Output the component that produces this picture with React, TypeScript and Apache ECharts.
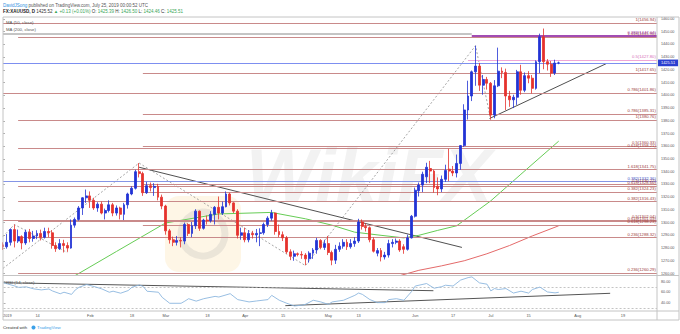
import React, { useEffect, useRef } from "react";
import * as echarts from "echarts";

// ---------------- data ----------------
const firstDay = "2018-12-31";
const lastDay = "2019-08-30";
const holidays = ["2019-01-01"];

// daily candles: [open, close, low, high]
const dec2018 = [[1282.5, 1281.0, 1278.5, 1284.5]];
const jan2019 = [
  [1281.0, 1284.5, 1279.5, 1291.0], [1284.5, 1294.5, 1282.0, 1295.5], [1294.5, 1285.5, 1280.5, 1298.5],
  [1285.5, 1289.0, 1284.0, 1294.5], [1289.0, 1284.0, 1279.0, 1290.0], [1284.0, 1292.5, 1282.5, 1294.5],
  [1292.5, 1287.5, 1284.5, 1295.0], [1287.5, 1289.5, 1285.0, 1293.5], [1289.5, 1291.5, 1287.0, 1294.0],
  [1291.5, 1288.5, 1286.0, 1294.5], [1288.5, 1293.0, 1287.5, 1296.0], [1293.0, 1292.0, 1288.5, 1296.0],
  [1292.0, 1282.0, 1279.5, 1294.0], [1282.0, 1279.5, 1277.0, 1284.5], [1279.5, 1283.5, 1278.5, 1287.0],
  [1283.5, 1282.0, 1276.5, 1286.5], [1282.0, 1280.0, 1277.0, 1284.5], [1280.0, 1298.0, 1279.5, 1302.5],
  [1298.0, 1302.5, 1296.0, 1304.0], [1302.5, 1311.5, 1301.5, 1313.0], [1311.5, 1319.5, 1306.0, 1320.0],
  [1319.5, 1321.0, 1315.5, 1326.0],
];
const feb2019 = [
  [1321.0, 1317.5, 1311.5, 1324.5], [1317.5, 1311.5, 1310.0, 1319.5], [1311.5, 1314.5, 1308.5, 1316.0],
  [1314.5, 1307.5, 1306.5, 1316.5], [1307.5, 1309.5, 1302.5, 1311.0], [1309.5, 1314.0, 1308.0, 1317.5],
  [1314.0, 1307.5, 1305.0, 1315.5], [1307.5, 1311.5, 1305.5, 1313.5], [1311.5, 1306.5, 1302.5, 1312.5],
  [1306.5, 1314.0, 1302.0, 1315.5], [1314.0, 1322.5, 1311.0, 1323.5], [1322.5, 1327.0, 1321.5, 1328.5],
  [1327.0, 1340.0, 1326.0, 1341.5], [1340.0, 1338.5, 1335.5, 1346.8], [1338.5, 1323.5, 1321.0, 1340.0],
  [1323.5, 1329.0, 1322.5, 1332.0], [1329.0, 1327.5, 1324.5, 1331.5], [1327.5, 1328.5, 1321.0, 1331.0],
  [1328.5, 1320.0, 1317.5, 1330.5], [1320.0, 1313.0, 1310.5, 1322.0],
];
const mar2019 = [
  [1313.0, 1293.5, 1290.5, 1314.0], [1293.5, 1286.5, 1283.5, 1295.0], [1286.5, 1284.5, 1281.5, 1289.0],
  [1284.5, 1286.0, 1282.0, 1289.5], [1286.0, 1285.5, 1280.5, 1288.5], [1285.5, 1298.5, 1283.0, 1300.0],
  [1298.5, 1291.5, 1289.5, 1299.5], [1291.5, 1297.5, 1288.5, 1300.5], [1297.5, 1309.0, 1295.0, 1310.5],
  [1309.0, 1295.5, 1293.5, 1309.5], [1295.5, 1302.0, 1294.5, 1303.0], [1302.0, 1301.5, 1298.5, 1305.5],
  [1301.5, 1306.5, 1300.0, 1309.0], [1306.5, 1312.0, 1298.5, 1313.0], [1312.0, 1307.5, 1302.5, 1320.5],
  [1307.5, 1312.5, 1306.0, 1316.5], [1312.5, 1322.5, 1312.0, 1324.5], [1322.5, 1315.5, 1313.5, 1323.5],
  [1315.5, 1309.0, 1307.5, 1316.0], [1309.0, 1290.0, 1287.5, 1310.5], [1290.0, 1292.0, 1286.5, 1296.0],
];
const apr2019 = [
  [1292.0, 1286.5, 1284.5, 1296.0], [1286.5, 1291.5, 1284.5, 1294.0], [1291.5, 1290.5, 1287.5, 1293.5],
  [1290.5, 1291.5, 1284.5, 1295.0], [1291.5, 1292.0, 1281.5, 1295.5], [1292.0, 1298.5, 1290.5, 1300.0],
  [1298.5, 1303.5, 1296.5, 1305.0], [1303.5, 1307.5, 1301.5, 1310.0], [1307.5, 1293.0, 1290.5, 1308.0],
  [1293.0, 1290.5, 1288.5, 1298.5], [1290.5, 1288.0, 1285.5, 1293.0], [1288.0, 1277.0, 1275.5, 1289.5],
  [1277.0, 1273.5, 1270.5, 1279.0], [1273.5, 1275.5, 1270.0, 1278.0], [1275.5, 1275.0, 1273.5, 1276.5],
  [1275.0, 1274.5, 1271.5, 1277.5], [1274.5, 1271.5, 1266.5, 1276.0], [1271.5, 1276.0, 1268.5, 1277.5],
  [1276.0, 1278.5, 1271.5, 1280.0], [1278.5, 1286.0, 1275.5, 1288.0], [1286.0, 1280.5, 1279.0, 1287.0],
  [1280.5, 1283.5, 1278.5, 1286.5],
];
const may2019 = [
  [1283.5, 1276.5, 1274.5, 1289.5], [1276.5, 1270.5, 1266.5, 1278.0], [1270.5, 1279.0, 1267.5, 1282.5],
  [1279.0, 1281.5, 1277.0, 1284.5], [1281.5, 1284.5, 1279.5, 1287.0], [1284.5, 1281.0, 1278.5, 1287.0],
  [1281.0, 1283.5, 1279.5, 1287.0], [1283.5, 1285.5, 1281.0, 1288.5], [1285.5, 1300.5, 1284.0, 1303.0],
  [1300.5, 1297.0, 1294.5, 1302.5], [1297.0, 1296.0, 1293.0, 1299.5], [1296.0, 1286.5, 1284.5, 1297.0],
  [1286.5, 1277.5, 1276.5, 1288.5], [1276.0, 1278.0, 1273.5, 1280.0], [1278.0, 1273.0, 1269.5, 1280.0],
  [1273.0, 1274.5, 1271.0, 1277.0], [1274.5, 1283.5, 1272.5, 1286.5], [1283.5, 1284.5, 1280.5, 1287.0],
  [1284.5, 1285.5, 1283.0, 1287.5], [1285.5, 1278.5, 1277.0, 1287.0], [1281.0, 1279.0, 1275.5, 1283.0],
  [1279.0, 1288.0, 1278.0, 1290.5], [1288.0, 1305.0, 1287.5, 1306.0],
];
const jun2019 = [
  [1305.0, 1325.5, 1304.0, 1327.5], [1325.0, 1329.5, 1320.5, 1331.5], [1329.5, 1338.0, 1324.0, 1340.0],
  [1336.0, 1343.5, 1331.0, 1347.0], [1342.5, 1340.5, 1331.0, 1348.5], [1340.5, 1327.5, 1323.5, 1341.5],
  [1328.5, 1326.5, 1321.5, 1335.5], [1326.5, 1334.0, 1324.0, 1337.0], [1334.0, 1341.0, 1332.0, 1345.5],
  [1342.0, 1340.5, 1332.5, 1358.0], [1340.5, 1339.0, 1336.5, 1344.5], [1339.0, 1346.5, 1335.5, 1353.5],
  [1346.5, 1360.5, 1341.5, 1361.0], [1360.5, 1388.5, 1359.5, 1393.0], [1388.5, 1399.5, 1381.0, 1411.5],
  [1399.5, 1418.5, 1395.5, 1419.5], [1418.5, 1423.0, 1407.5, 1439.0], [1423.0, 1408.0, 1403.5, 1425.5],
  [1408.0, 1412.5, 1400.5, 1416.0], [1412.5, 1409.5, 1404.5, 1414.5],
];
const jul2019 = [
  [1409.5, 1384.5, 1381.0, 1410.5], [1384.5, 1407.5, 1382.0, 1412.0], [1407.5, 1419.0, 1406.5, 1437.5],
  [1419.0, 1418.0, 1413.5, 1422.0], [1418.0, 1399.5, 1388.5, 1421.0], [1399.5, 1396.5, 1391.0, 1403.5],
  [1396.5, 1398.5, 1390.0, 1400.5], [1398.5, 1418.5, 1392.5, 1420.0], [1418.5, 1404.0, 1400.5, 1424.0],
  [1404.0, 1415.5, 1402.5, 1418.0], [1415.5, 1413.5, 1409.5, 1419.0], [1413.5, 1405.5, 1401.5, 1416.0],
  [1405.5, 1426.5, 1404.5, 1427.5], [1426.5, 1446.0, 1417.5, 1448.5], [1446.0, 1426.5, 1420.5, 1452.5],
  [1426.5, 1424.5, 1419.5, 1428.5], [1424.5, 1417.5, 1414.5, 1427.0], [1417.5, 1425.4, 1416.0, 1428.0],
  [1425.39, 1425.51, 1424.46, 1426.5],
];

// moving averages (day index, value)
const ma50Idx = [18, 30, 43, 57, 71, 80, 87, 93, 100, 106, 110, 115, 120, 126, 129, 137, 147];
const ma50Val = [1256.5, 1277.3, 1299.7, 1306.8, 1308.0, 1303.0, 1298.0, 1292.5, 1290.0, 1288.0, 1290.0, 1293.9, 1297.5, 1310.5, 1317.0, 1338.0, 1364.0];
const ma200Idx = [104, 110, 116, 122, 128, 134, 140, 147];
const ma200Val = [1257.5, 1262.5, 1266.0, 1270.0, 1275.5, 1282.0, 1289.5, 1297.5];

// RSI(14) (day index, value)
const rsiIdx = [0, 3, 4, 6, 8, 10, 12, 13, 15, 16, 18, 19, 20, 22, 24, 26, 28, 29, 31, 33, 34, 36, 37, 38, 41, 42, 44, 47, 48, 49, 51, 53, 56, 57, 60, 62, 65, 67, 70, 71, 73, 75, 77, 79, 80, 82, 84, 86, 87, 90, 93, 94, 95, 97, 99, 101, 102, 104, 106, 108, 109, 110, 112, 114, 116, 117, 119, 121, 123, 124, 126, 128, 129, 130, 131, 133, 135, 137, 139, 140, 142, 144, 146, 147];
const rsiVal = [78, 72, 69.5, 70.5, 66.7, 64.8, 66.5, 62.7, 57.7, 60.5, 56.5, 64.8, 69.7, 74.7, 71, 66.7, 60.5, 62.4, 58.7, 63.6, 69.8, 74, 71, 62.3, 60.5, 51, 40, 40, 44, 48.5, 44, 48.5, 52.8, 51.6, 57.8, 46.8, 42.5, 44.3, 46.8, 54.7, 45.6, 40, 35, 36.5, 38.3, 45.6, 42.5, 38, 42.5, 45.6, 54.7, 59, 56.5, 46.8, 41.2, 41.2, 46.8, 48.5, 45.6, 61.5, 72, 73.5, 76.6, 67.9, 70.8, 73.5, 72, 83, 87.6, 88.9, 77.8, 75.4, 63, 67.3, 65.5, 67.3, 59, 62.4, 59, 65.5, 70, 61, 59.3, 60.4];
const rsiBands = [70, 30];

// fibonacci levels: ratio, price, start day index
const redRatios = ["1", "1.618", "1", "0.786", "0.786", "1", "0.5", "0.618", "1.618", "0.5", "0.618", "0.382", "0.382", "0.5", "0.618", "0.618", "0.236", "0.236"];
const redPrices = [1456.94, 1445.9, 1417.65, 1401.86, 1385.31, 1380.76, 1360.33, 1358.21, 1341.75, 1330.27, 1328.66, 1324.23, 1316.43, 1302.04, 1301.03, 1298.23, 1288.32, 1260.29];
const redStarts = [0, 4, 37, 0, 37, 4, 37, 4, 4, 37, 4, 37, 4, 0, 4, 37, 4, 4];
const blueRatios = ["0.382"];
const bluePrices = [1332.36];
const blueStarts = [0];
const purpleRatios = ["0.382"];
const purplePrices = [1447.04];
const purpleStarts = [124];
const pinkRatios = ["0.5"];
const pinkPrices = [1427.8];
const pinkStarts = [123];
const grayLevel = [[0, 1448.2], [124, 1448.2]];
const lastPrice = 1425.51;

// drawn trend lines (day index, price)
const solidTrends = [
  [[36, 1343.5], [121.4, 1280.5]],
  [[128.7, 1381.8], [159.7, 1425.1]],
];
const dashedPaths = [
  [[0, 1264.0], [36, 1346.8]],
  [[36, 1346.8], [80, 1266.2], [125, 1439.0], [129, 1381.0]],
  [[0, 1289.0], [3, 1298.5], [17, 1276.5]],
];
const rsiTrends = [
  [[0, 78.1], [113.8, 63.3]],
  [[74.6, 35.6], [160.6, 58.5]],
];

// axis ticks
const priceTicks = [1260, 1270, 1280, 1290, 1300, 1310, 1320, 1330, 1340, 1350, 1360, 1370, 1380, 1390, 1400, 1410, 1420, 1430, 1440, 1450, 1460];
const rsiTicks = [40, 60, 80];
const tickDates = ["2019-01-02", "2019-01-14", "2019-02-01", "2019-02-18", "2019-03-01", "2019-03-18", "2019-04-01", "2019-04-15", "2019-05-01", "2019-05-13", "2019-06-03", "2019-06-17", "2019-07-01", "2019-07-15", "2019-08-01", "2019-08-19"];
const tickLabels = ["2019", "14", "Feb", "18", "Mar", "18", "Apr", "15", "May", "13", "Jun", "17", "Jul", "15", "Aug", "19"];

// ---------------- chart ----------------
const FONT = "'Liberation Sans', Arial, Helvetica, sans-serif";
const UP = "#2233d4";
const DOWN = "#e5322d";

function buildDays(): string[] {
  const out: string[] = [];
  const d = new Date(firstDay + "T00:00:00Z");
  const end = new Date(lastDay + "T00:00:00Z");
  while (d.getTime() <= end.getTime()) {
    const wd = d.getUTCDay();
    const s = d.toISOString().slice(0, 10);
    if (wd !== 0 && wd !== 6 && holidays.indexOf(s) < 0) out.push(s);
    d.setUTCDate(d.getUTCDate() + 1);
  }
  return out;
}

function buildOption() {
  const days = buildDays();
  const lastIdx = days.length - 1;
  const candles = [...dec2018, ...jan2019, ...feb2019, ...mar2019, ...apr2019, ...may2019, ...jun2019, ...jul2019];

  const line = (data: any[], color: string, width: number, type: any = "solid", xi = 2, yi = 0, z = 4) => ({
    type: "line", xAxisIndex: xi, yAxisIndex: yi, data, symbol: "none", silent: true, z,
    lineStyle: { color, width, type }, clip: true,
  });

  const levelSeries = (ratios: string[], prices: number[], starts: number[], lineColor: string, labelColor: string, width: number) => ({
    type: "line", xAxisIndex: 2, yAxisIndex: 0, data: [], symbol: "none", silent: true, z: 3,
    markLine: {
      silent: true, symbol: ["none", "none"], animation: false,
      lineStyle: { color: lineColor, width, type: "solid" },
      label: { show: true, position: "insideEndTop", formatter: "{b}", color: labelColor, fontSize: 4.2, distance: 1.2, fontFamily: FONT },
      emphasis: { disabled: true },
      data: prices.map((p, i) => [
        { name: `${ratios[i]}(${p.toFixed(2)})`, coord: [starts[i], p] },
        { coord: [lastIdx, p] },
      ]),
    },
  });

  const series: any[] = [];
  series.push(levelSeries(redRatios, redPrices, redStarts, "#c98a8a", "#9c3b3b", 1));
  series.push(levelSeries(blueRatios, bluePrices, blueStarts, "#8595e6", "#3f55c8", 1));
  series.push(levelSeries(pinkRatios, pinkPrices, pinkStarts, "#f0a6d8", "#d66fb8", 1));
  series.push(levelSeries(purpleRatios, purplePrices, purpleStarts, "#a24cb3", "#9a3aac", 2));
  series.push(line(grayLevel, "#8a8a8a", 1));

  // last price line + tag
  series.push({
    type: "line", xAxisIndex: 2, yAxisIndex: 0, data: [], symbol: "none", silent: true, z: 4,
    markLine: {
      silent: true, symbol: ["none", "none"], animation: false,
      lineStyle: { color: "#7d8ff0", width: 1, type: "solid" },
      label: {
        show: true, position: "end", formatter: lastPrice.toFixed(2), color: "#ffffff",
        backgroundColor: "#2b3fd0", padding: [1.5, 3, 1.2, 3], fontSize: 3.9, distance: 1, fontFamily: FONT,
      },
      data: [{ yAxis: lastPrice }],
    },
  });

  dashedPaths.forEach((p) => series.push(line(p, "#8f8f8f", 0.8, [2, 2])));
  solidTrends.forEach((p) => series.push(line(p, "#505050", 1)));

  series.push(line(ma200Idx.map((x, i) => [x, ma200Val[i]]), "#e46a6a", 1));
  series.push(line(ma50Idx.map((x, i) => [x, ma50Val[i]]), "#66cc55", 1));

  series.push({
    type: "candlestick", xAxisIndex: 0, yAxisIndex: 0, data: candles, barWidth: 2.4, silent: true, z: 5,
    itemStyle: { color: UP, color0: DOWN, borderColor: UP, borderColor0: DOWN, borderWidth: 0.8 },
  });

  // RSI pane
  series.push({
    type: "line", xAxisIndex: 3, yAxisIndex: 1, data: [], symbol: "none", silent: true, z: 3,
    markLine: {
      silent: true, symbol: ["none", "none"], animation: false, label: { show: false },
      lineStyle: { color: "#b5b5b5", width: 0.8, type: [2, 2] },
      data: rsiBands.map((v) => ({ yAxis: v })),
    },
  });
  series.push(line(rsiIdx.map((x, i) => [x, rsiVal[i]]), "#8cb7df", 0.9, "solid", 3, 1, 5));
  rsiTrends.forEach((p) => series.push(line(p, "#555555", 1, "solid", 3, 1, 4)));

  const frame = "#c4c4c4";
  const elements: any[] = [
    // watermark
    { type: "rect", z: 0, shape: { x: 165, y: 196, width: 76, height: 76, r: 14 }, style: { fill: "rgba(250,214,140,0.22)" }, silent: true },
    { type: "circle", z: 0, shape: { cx: 203, cy: 234, r: 22 }, style: { fill: "none", stroke: "rgba(170,170,170,0.22)", lineWidth: 7 }, silent: true },
    {
      type: "text", z: 0, x: 246, y: 212, silent: true,
      style: { text: "WikiFX", fill: "rgba(190,190,190,0.2)", font: "italic bold 74px 'Liberation Sans', Arial, sans-serif", textVerticalAlign: "bottom" },
    },
    // frame
    { type: "rect", z: 50, silent: true, shape: { x: 3, y: 17, width: 676, height: 303 }, style: { fill: "none", stroke: frame, lineWidth: 1 } },
    { type: "line", z: 50, silent: true, shape: { x1: 3, y1: 275.5, x2: 679, y2: 275.5 }, style: { stroke: frame, lineWidth: 1 } },
    { type: "line", z: 50, silent: true, shape: { x1: 3, y1: 311, x2: 679, y2: 311 }, style: { stroke: frame, lineWidth: 1 } },
    { type: "line", z: 50, silent: true, shape: { x1: 657, y1: 17, x2: 657, y2: 320 }, style: { stroke: frame, lineWidth: 1 } },
    // header
    {
      type: "text", z: 60, x: 3, y: 5, silent: true,
      style: {
        text: "{a|DavidJSong} {b|published on TradingView.com, July 25, 2019 00:00:52 UTC}",
        textVerticalAlign: "middle", font: `4.5px ${FONT}`,
        rich: { a: { fill: "#2f8fe0", fontSize: 4.5, fontFamily: FONT }, b: { fill: "#555", fontSize: 4.5, fontFamily: FONT } },
      },
    },
    {
      type: "text", z: 60, x: 3, y: 11.7, silent: true,
      style: {
        text: "{k|FX:XAUUSD, D} {n|1425.52} {g|▲ +0.13 (+0.01%)} {n|O:}{g| 1425.39} {n|H:}{g| 1426.50} {n|L:}{g| 1424.46} {n|C:}{g| 1425.51}",
        textVerticalAlign: "middle", font: `4.5px ${FONT}`,
        rich: {
          k: { fill: "#222", fontWeight: "bold", fontSize: 4.5, fontFamily: FONT },
          n: { fill: "#333", fontSize: 4.5, fontFamily: FONT },
          g: { fill: "#3aa65a", fontSize: 4.5, fontFamily: FONT },
        },
      },
    },
    // legends
    { type: "text", z: 60, x: 6, y: 22.3, silent: true, style: { text: "MA (50, close)", fill: "#555", font: `4.3px ${FONT}`, textVerticalAlign: "middle" } },
    { type: "text", z: 60, x: 6, y: 29.2, silent: true, style: { text: "MA (200, close)", fill: "#555", font: `4.3px ${FONT}`, textVerticalAlign: "middle" } },
    { type: "text", z: 60, x: 6, y: 282, silent: true, style: { text: "RSI (14, close)", fill: "#555", font: `4.3px ${FONT}`, textVerticalAlign: "middle" } },
    // footer
    { type: "text", z: 60, x: 3, y: 327.5, silent: true, style: { text: "Created with", fill: "#333", font: `4.3px ${FONT}`, textVerticalAlign: "middle" } },
    { type: "circle", z: 60, silent: true, shape: { cx: 33.5, cy: 327.5, r: 2 }, style: { fill: "#3aa0e8" } },
    { type: "text", z: 60, x: 37, y: 327.5, silent: true, style: { text: "TradingView", fill: "#3aa0e8", font: `4.3px ${FONT}`, textVerticalAlign: "middle" } },
  ];

  return {
    animation: false,
    backgroundColor: "#ffffff",
    textStyle: { fontFamily: FONT },
    grid: [
      { left: 3, top: 17, width: 654, height: 258.5 },
      { left: 3, top: 275.5, width: 654, height: 35.5 },
    ],
    xAxis: [
      { type: "category", gridIndex: 0, data: days, boundaryGap: false, show: false },
      {
        type: "category", gridIndex: 1, data: days, boundaryGap: false,
        axisLine: { show: false }, axisTick: { show: false }, splitLine: { show: false },
        axisLabel: {
          interval: (_i: number, v: string) => tickDates.indexOf(v) >= 0,
          formatter: (v: string) => { const k = tickDates.indexOf(v); return k >= 0 ? tickLabels[k] : ""; },
          fontSize: 3.9, color: "#555", margin: 2.6, hideOverlap: false, fontFamily: FONT,
        },
      },
      { type: "value", gridIndex: 0, min: 0, max: lastIdx, show: false },
      { type: "value", gridIndex: 1, min: 0, max: lastIdx, show: false },
    ],
    yAxis: [
      {
        type: "value", gridIndex: 0, position: "right", min: 1258.43, max: 1461.57,
        splitLine: { show: false },
        axisLine: { show: false },
        axisTick: { show: true, customValues: priceTicks, length: 2, lineStyle: { color: "#b0b0b0" } },
        axisLabel: { customValues: priceTicks, formatter: (v: number) => v.toFixed(2), fontSize: 3.7, color: "#555", margin: 4, fontFamily: FONT },
      },
      {
        type: "value", gridIndex: 1, position: "right", min: 25.7, max: 91.5,
        splitLine: { show: false },
        axisLine: { show: false },
        axisTick: { show: true, customValues: rsiTicks, length: 2, lineStyle: { color: "#b0b0b0" } },
        axisLabel: { customValues: rsiTicks, formatter: (v: number) => v.toFixed(2), fontSize: 3.7, color: "#555", margin: 4, fontFamily: FONT },
      },
    ],
    series,
    graphic: { elements },
  };
}

export default function App() {
  const ref = useRef<HTMLDivElement>(null);
  useEffect(() => {
    if (!ref.current) return;
    const chart = echarts.init(ref.current, null, { renderer: "svg", width: 680, height: 334 });
    chart.setOption(buildOption() as any);
    return () => chart.dispose();
  }, []);
  return (
    <div
      ref={ref}
      style={{ position: "fixed", left: 0, top: 0, width: 680, height: 334, background: "#ffffff" }}
    />
  );
}
